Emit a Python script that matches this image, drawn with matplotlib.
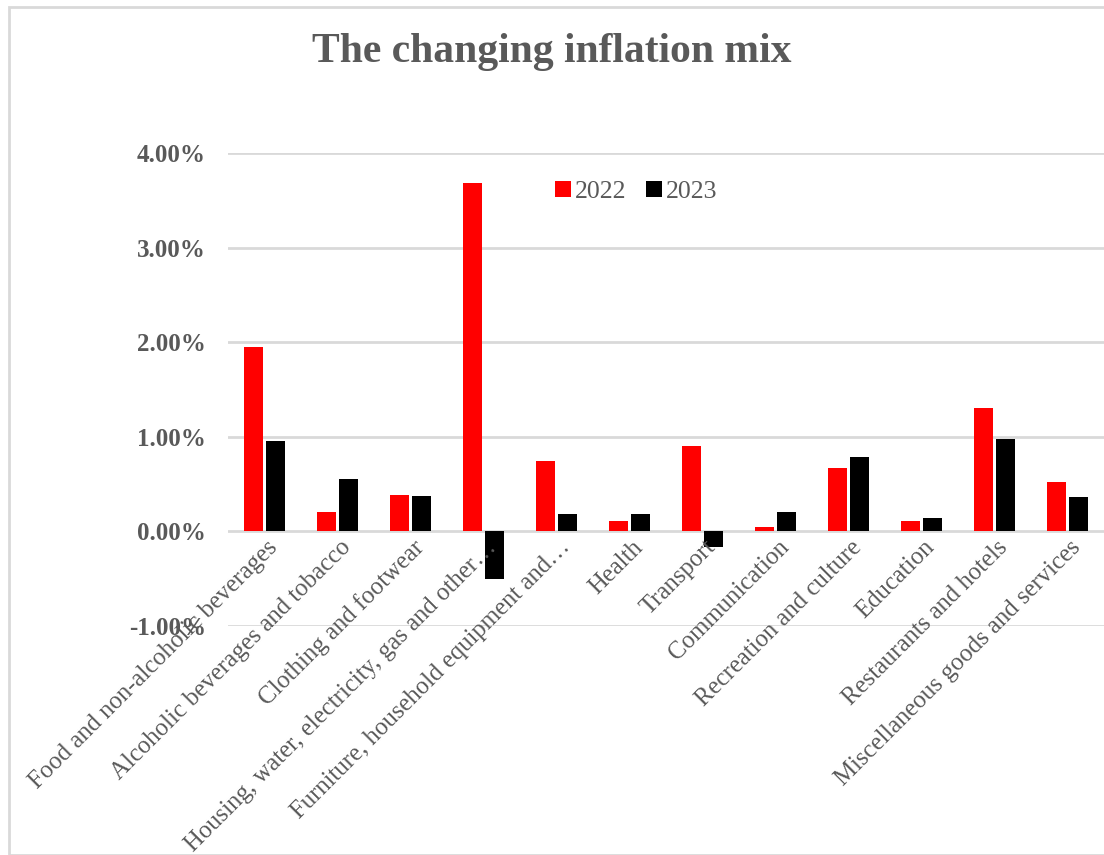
import numpy as np
import matplotlib.pyplot as plt
from matplotlib.patches import Rectangle
from matplotlib.ticker import FuncFormatter

# categories as shown on the chart (long ones cut off like in Excel)
categories = ["Food and non-alcoholic beverages", "Alcoholic beverages and tobacco",
              "Clothing and footwear", "Housing, water, electricity, gas and other\u2026",
              "Furniture, household equipment and\u2026", "Health", "Transport",
              "Communication", "Recreation and culture", "Education",
              "Restaurants and hotels", "Miscellaneous goods and services"]
vals_2022 = [1.95, 0.20, 0.39, 3.68, 0.74, 0.11, 0.90, 0.05, 0.67, 0.11, 1.30, 0.52]
vals_2023 = [0.96, 0.55, 0.37, -0.50, 0.18, 0.18, -0.17, 0.20, 0.79, 0.14, 0.98, 0.36]
yticks = [-1, 0, 1, 2, 3, 4]

plt.rcParams['font.family'] = ['Liberation Serif', 'DejaVu Serif']
grey = '#595959'

fig = plt.figure(figsize=(11.04, 8.55), dpi=100)
# outer chart frame
fig.patches.append(Rectangle((9/1104, 0), 1.2, 1 - 7/855, transform=fig.transFigure,
                             fill=False, edgecolor='#d9d9d9', linewidth=2))

ax = fig.add_axes([228/1104, 1 - 626/855, 1 - 228/1104, (626 - 153)/855])
x = np.arange(len(categories))
w = 0.26
ax.bar(x - w/2 - 0.015, vals_2022, w, color='#ff0000', label='2022', zorder=3)
ax.bar(x + w/2 + 0.015, vals_2023, w, color='#000000', label='2023', zorder=3)

ax.set_xlim(-0.5, len(categories) - 0.5)
ax.set_ylim(-1, 4)
ax.set_yticks(yticks)
ax.yaxis.set_major_formatter(FuncFormatter(lambda v, p: f"{v:.2f}%"))
ax.grid(axis='y', color='#d9d9d9', linewidth=2, zorder=0)
for s in ax.spines.values():
    s.set_visible(False)
ax.tick_params(axis='both', length=0)
ax.tick_params(axis='y', pad=16, labelsize=18, labelcolor=grey)
for t in ax.get_yticklabels():
    t.set_fontweight('bold')

# x labels hang from just under the zero line, rotated like Excel
ax.set_xticks(x)
ax.set_xticklabels([])
trans = ax.get_xaxis_transform()
for lbl, xi in zip(categories, x):
    ax.text(xi + 0.03, 0.19, lbl, transform=trans, rotation=45,
            ha='right', va='top', rotation_mode='anchor', fontsize=17.8, color=grey)

leg = ax.legend(loc='upper center', bbox_to_anchor=(0.466, 0.99), ncol=2, frameon=False,
                fontsize=18.5, handlelength=0.6, handleheight=0.6, handletextpad=0.15,
                columnspacing=0.8)
for t in leg.get_texts():
    t.set_color(grey)

fig.text(0.5, 1 - 52/855, "The changing inflation mix", ha='center', va='center',
         fontsize=30, fontweight='bold', color=grey)

fig.savefig('out.png', dpi=100)
